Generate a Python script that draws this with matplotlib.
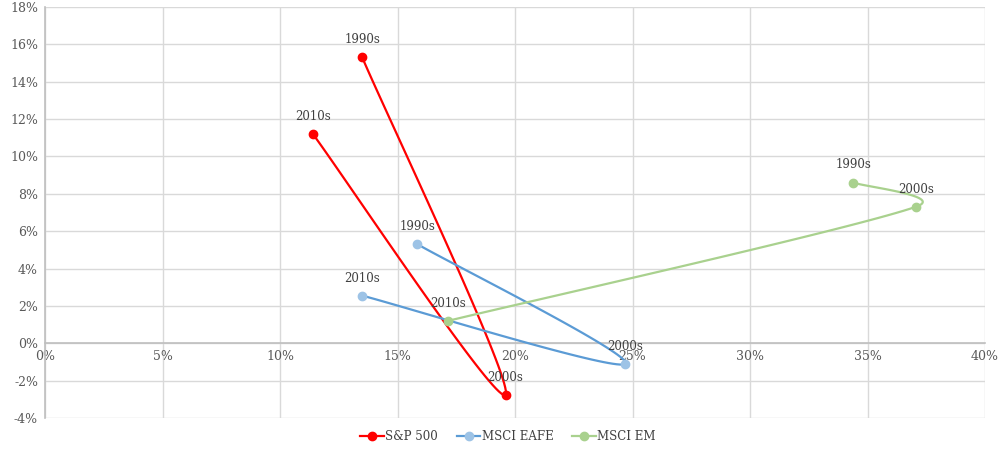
import numpy as np
import matplotlib.pyplot as plt
from matplotlib.ticker import FuncFormatter
from matplotlib.lines import Line2D

decades = ["1990s", "2000s", "2010s"]

# volatility (x) and return (y), in percent
sp500_risk = [13.5, 19.6, 11.4]
sp500_ret = [15.3, -2.75, 11.2]
eafe_risk = [15.85, 24.7, 13.5]
eafe_ret = [5.3, -1.1, 2.55]
em_risk = [34.4, 37.05, 17.15]
em_ret = [8.6, 7.3, 1.2]

plt.rcParams['font.family'] = ['DejaVu Serif']

fig = plt.figure(figsize=(10, 4.57), dpi=100)
ax = fig.add_axes([0.045, 1 - 418 / 457, 0.94, (418 - 7) / 457])
ax.set_xlim(0, 40)
ax.set_ylim(-4, 18)
ax.set_xticks(np.arange(0, 41, 5))
ax.set_yticks(np.arange(-4, 19, 2))
ax.xaxis.set_major_formatter(FuncFormatter(lambda v, p: "%d%%" % v))
ax.yaxis.set_major_formatter(FuncFormatter(lambda v, p: "%d%%" % v))
ax.grid(True, color="#d9d9d9", linewidth=1)
ax.set_axisbelow(True)
for s in ["top", "right"]:
    ax.spines[s].set_visible(False)
ax.spines["bottom"].set_position(("data", 0))
ax.spines["bottom"].set_color("#bfbfbf")
ax.spines["left"].set_color("#bfbfbf")
ax.spines["bottom"].set_linewidth(1.2)
ax.spines["left"].set_linewidth(1.2)
ax.tick_params(length=0, labelsize=9, colors="#595959", pad=5)


def smooth(xs, ys, n=40):
    # excel-like smoothed line, built in display space
    pts = ax.transData.transform(np.column_stack([xs, ys]))
    out = []
    m = len(pts)
    for i in range(m - 1):
        p0 = pts[max(i - 1, 0)]
        p1 = pts[i]
        p2 = pts[i + 1]
        p3 = pts[min(i + 2, m - 1)]
        seg = np.hypot(*(p2 - p1))
        t1 = (p2 - p0) / 6
        t2 = (p3 - p1) / 6
        # keep the tangents from overshooting short segments
        if np.hypot(*t1) > seg * 0.5:
            t1 = t1 / np.hypot(*t1) * seg * 0.5
        if np.hypot(*t2) > seg * 0.5:
            t2 = t2 / np.hypot(*t2) * seg * 0.5
        c1 = p1 + t1
        c2 = p2 - t2
        t = np.linspace(0, 1, n)[:, None]
        part = ((1 - t) ** 3) * p1 + 3 * ((1 - t) ** 2) * t * c1 + 3 * (1 - t) * t ** 2 * c2 + t ** 3 * p2
        out.append(part)
    out = np.vstack(out)
    d = ax.transData.inverted().transform(out)
    return d[:, 0], d[:, 1]


series = [
    ("S&P 500", sp500_risk, sp500_ret, "#ff0000", "#ff0000"),
    ("MSCI EAFE", eafe_risk, eafe_ret, "#5b9bd5", "#9dc3e6"),
    ("MSCI EM", em_risk, em_ret, "#a9d18e", "#a9d18e"),
]

handles = []
for name, xs, ys, lc, mc in series:
    sx, sy = smooth(xs, ys)
    ax.plot(sx, sy, color=lc, linewidth=1.6, zorder=3, clip_on=False)
    ax.plot(xs, ys, "o", color=mc, markersize=6, zorder=4, clip_on=False)
    for d, x, y in zip(decades, xs, ys):
        ax.annotate(d, (x, y), xytext=(0, 8), textcoords="offset points",
                    ha="center", va="bottom", fontsize=8.5, color="#404040")
    handles.append(Line2D([], [], color=lc, linewidth=1.6, marker="o",
                          markerfacecolor=mc, markeredgecolor=mc, markersize=6, label=name))

fig.legend(handles=handles, loc="center", bbox_to_anchor=(0.508, 1 - 437 / 457), ncol=3,
           frameon=False, fontsize=8.5, handlelength=2.0, handletextpad=0.1, columnspacing=1.6,
           labelcolor="#404040")

fig.savefig("out.png", dpi=100)
